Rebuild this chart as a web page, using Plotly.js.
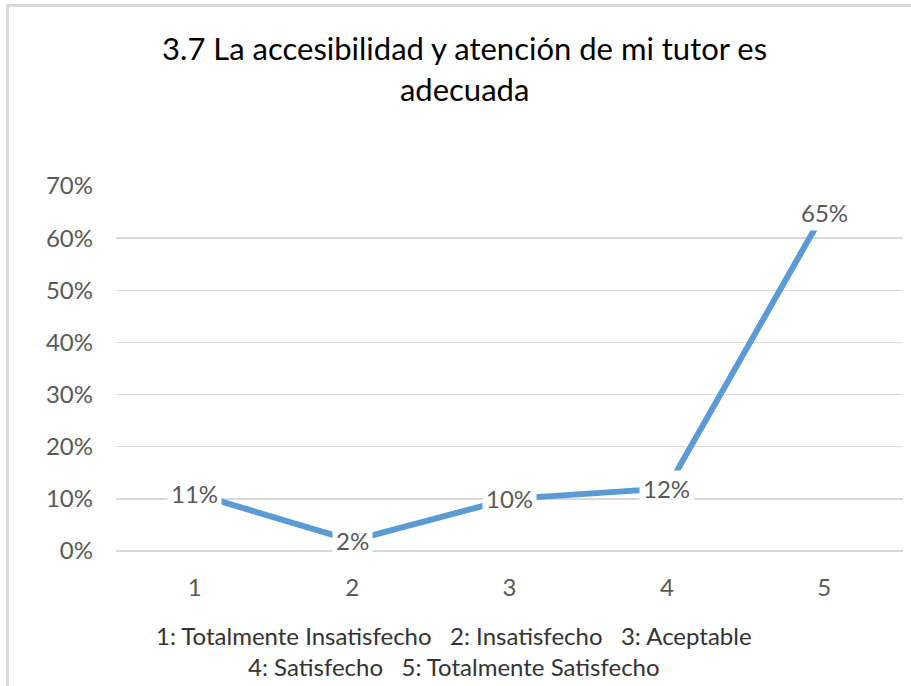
<!DOCTYPE html>
<html>
<head>
<meta charset="utf-8">
<script src="https://cdn.plot.ly/plotly-3.0.1.min.js"></script>
<style>
  html, body { margin: 0; padding: 0; background: #ffffff; }
  #chart { position: absolute; left: 0; top: 0; width: 911px; height: 686px; }
  #frame { position: absolute; left: 6px; top: 4px; width: 920px; height: 700px;
           border-top: 3px solid #d9d9d9; border-left: 3px solid #d9d9d9; pointer-events: none; }
</style>
</head>
<body>
<div id="chart"></div>
<div id="frame"></div>
<script>
const categories = ['1', '2', '3', '4', '5'];
const values = [0.11, 0.02, 0.10, 0.12, 0.65];
const valueLabels = ['11%', '2%', '10%', '12%', '65%'];
const yTickValues = [0, 0.1, 0.2, 0.3, 0.4, 0.5, 0.6, 0.7];
const yTickLabels = ['0%', '10%', '20%', '30%', '40%', '50%', '60%', '70%'];
const titleText = '3.7 La accesibilidad y atención de mi tutor es<br>adecuada';
const legendText = '1: Totalmente Insatisfecho   2: Insatisfecho   3: Aceptable<br>4: Satisfecho   5: Totalmente Satisfecho';

const FONT = 'Lato, "Open Sans", Arial, sans-serif';

const trace = {
  x: categories,
  y: values,
  type: 'scatter',
  mode: 'lines',
  line: { color: '#5B9BD5', width: 6 },
  hoverinfo: 'skip'
};

const labelAnnotations = categories.map((c, i) => ({
  x: i, y: values[i], xref: 'x', yref: 'y',
  text: valueLabels[i], showarrow: false,
  bgcolor: '#ffffff', borderpad: 3,
  font: { family: FONT, size: 24, color: '#595959' },
  xanchor: 'center', yanchor: 'middle'
}));

const layout = {
  width: 911, height: 686,
  margin: { l: 116, r: 8, t: 186, b: 135 },
  paper_bgcolor: '#ffffff', plot_bgcolor: '#ffffff',
  showlegend: false,
  title: {
    text: titleText,
    font: { family: FONT, size: 31, color: '#000000' },
    x: 0.51, xref: 'container', xanchor: 'center',
    y: 0.912, yref: 'container', yanchor: 'top'
  },
  xaxis: {
    type: 'category',
    range: [-0.5, 4.5],
    showgrid: false, zeroline: false, showline: false,
    ticks: '', ticklabelstandoff: 20,
    tickfont: { family: FONT, size: 24, color: '#595959' },
    fixedrange: true
  },
  yaxis: {
    range: [0, 0.7],
    tickvals: yTickValues, ticktext: yTickLabels,
    showgrid: true, gridcolor: '#d9d9d9', gridwidth: 1.3,
    zeroline: true, zerolinecolor: '#d9d9d9', zerolinewidth: 1.3,
    showline: false, ticks: '', ticklabelstandoff: 22,
    tickfont: { family: FONT, size: 24, color: '#595959' },
    fixedrange: true
  },
  annotations: labelAnnotations.concat([{
    xref: 'paper', yref: 'paper', x: 0.43, y: -0.185,
    xanchor: 'center', yanchor: 'top', align: 'center',
    text: legendText, showarrow: false,
    font: { family: FONT, size: 24, color: '#333333' }
  }])
};

Plotly.newPlot('chart', [trace], layout, { displayModeBar: false, staticPlot: true });
</script>
</body>
</html>
